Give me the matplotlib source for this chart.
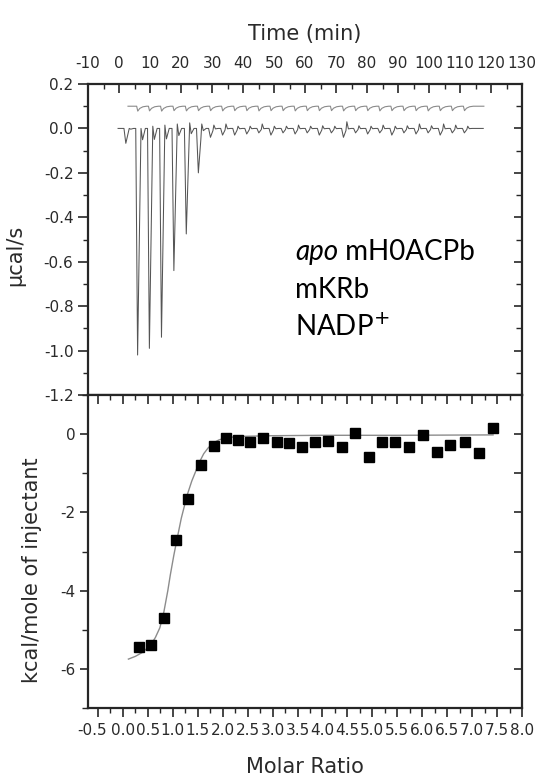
import matplotlib
matplotlib.use('Agg')
import matplotlib.pyplot as plt
import matplotlib.transforms as mtransforms
from matplotlib.ticker import MultipleLocator, FormatStrFormatter

# ---------------- data ----------------
# raw thermogram (top panel)
inj_time = [1.9, 5.7, 9.5, 13.4, 17.4, 21.4, 25.3, 29.2, 33.1, 37.0, 40.9, 44.8,
            48.7, 52.6, 56.5, 60.4, 64.3, 68.2, 72.1, 76.0, 79.9, 83.8, 87.7,
            91.6, 95.5, 99.4, 103.3, 107.2, 111.1]
sample_depth = [-0.067, -1.02, -0.99, -0.94, -0.64, -0.475, -0.20, -0.04, -0.03,
                -0.03, -0.025, -0.02, -0.03, -0.02, -0.025, -0.02, -0.03, -0.02,
                -0.04, -0.02, -0.025, -0.02, -0.03, -0.02, -0.025, -0.02, -0.03,
                -0.02, -0.02]
sample_blip = [0.0, 0.0, 0.01, 0.015, 0.02, 0.025, 0.02, 0.015, 0.02, 0.01, 0.01,
               0.02, 0.01, 0.01, 0.015, 0.01, 0.012, 0.01, 0.03, 0.012, 0.01,
               0.015, 0.01, 0.012, 0.02, 0.012, 0.02, 0.015, 0.01]
ref_time = [5.7, 9.5, 13.4, 17.4, 21.4, 25.3, 29.2, 33.1, 37.0, 40.9, 44.8,
            48.7, 52.6, 56.5, 60.4, 64.3, 68.2, 72.1, 76.0, 79.9, 83.8, 87.7,
            91.6, 95.5, 99.4, 103.3, 107.2, 111.1]
ref_depth = [-0.022, -0.021, -0.022, -0.02, -0.021, -0.02, -0.02, -0.021, -0.02,
             -0.02, -0.021, -0.02, -0.02, -0.021, -0.02, -0.02, -0.02, -0.021,
             -0.02, -0.02, -0.021, -0.02, -0.02, -0.02, -0.021, -0.02, -0.02, -0.02]
ref_base = 0.1
sample_span = (-0.3, 117.5)
ref_span = (2.9, 117.7)

# integrated heats (bottom panel)
molar_ratio = [0.32, 0.57, 0.83, 1.07, 1.31, 1.56, 1.82, 2.07, 2.31, 2.55, 2.81,
               3.08, 3.33, 3.59, 3.86, 4.12, 4.39, 4.65, 4.93, 5.19, 5.45, 5.73,
               6.01, 6.29, 6.56, 6.85, 7.14, 7.42]
heat = [-5.43, -5.39, -4.71, -2.70, -1.65, -0.80, -0.30, -0.09, -0.15, -0.19,
        -0.11, -0.19, -0.23, -0.34, -0.21, -0.17, -0.34, 0.04, -0.58, -0.19,
        -0.19, -0.32, -0.03, -0.45, -0.27, -0.19, -0.49, 0.15]
fit_x = [0.11, 0.25, 0.39, 0.55, 0.65, 0.74, 0.82, 0.90, 0.95, 1.02, 1.09, 1.17,
         1.24, 1.29, 1.38, 1.45, 1.52, 1.62, 1.71, 1.82, 1.92, 2.05, 2.3, 3.0,
         4.0, 5.5, 7.42]
fit_y = [-5.75, -5.68, -5.58, -5.40, -5.20, -4.95, -4.55, -4.00, -3.60, -3.10,
         -2.65, -2.15, -1.80, -1.55, -1.20, -0.98, -0.75, -0.50, -0.35, -0.22,
         -0.15, -0.10, -0.06, -0.04, -0.03, -0.03, -0.02]

time_ticks = list(range(-10, 131, 10))
ratio_ticks = [-0.5, 0.0, 0.5, 1.0, 1.5, 2.0, 2.5, 3.0, 3.5, 4.0, 4.5, 5.0, 5.5,
               6.0, 6.5, 7.0, 7.5, 8.0]
annotation = ["apo", " mH0ACPb", "mKRb", "NADP$^{+}$"]


def build_trace(times, depths, blips, base, span):
    xs, ys = [span[0]], [base]
    for t, d, b in zip(times, depths, blips):
        xs += [t - 0.3, t + 0.3, t + 1.1, t + 1.4, t + 1.9, t + 2.8]
        ys += [base, base + d, base + 0.25 * d, base + b, base + 0.05 * d, base]
    xs.append(span[1]); ys.append(base)
    return xs, ys


def build_ref(times, depths, base, span):
    xs, ys = [span[0]], [base]
    for t, d in zip(times, depths):
        xs += [t, t + 0.35, t + 1.0, t + 2.0, t + 3.2]
        ys += [base, base + d, base + 0.45 * d, base + 0.12 * d, base]
    xs.append(span[1]); ys.append(base)
    return xs, ys


# ---------------- figure ----------------
plt.rcParams['font.family'] = ['DejaVu Sans']
plt.rcParams['axes.unicode_minus'] = False
spine_col = '#262626'
text_col = '#2a2a2a'
tick_fs = 11

fig = plt.figure(figsize=(5.41, 7.79), dpi=100)
W, H = 541, 779
L, R = 88, 522
ax1 = fig.add_axes([L / W, 1 - 395 / H, (R - L) / W, (395 - 84) / H])
ax2 = fig.add_axes([L / W, 1 - 708 / H, (R - L) / W, (708 - 395) / H])

# top panel
sx, sy = build_trace(inj_time, sample_depth, sample_blip, 0.0, sample_span)
rx, ry = build_ref(ref_time, ref_depth, ref_base, ref_span)
ax1.plot(rx, ry, color='#8a8a8a', lw=0.8)
ax1.plot(sx, sy, color='#555555', lw=0.75)
ax1.set_xlim(-10, 130)
ax1.set_ylim(-1.2, 0.2)
ax1.xaxis.tick_top()
ax1.xaxis.set_label_position('top')
ax1.set_xticks(time_ticks)
ax1.set_xticklabels([str(t) for t in time_ticks])
ax1.xaxis.set_minor_locator(MultipleLocator(5))
ax1.tick_params(axis='x', which='major', direction='in', length=6.5, width=1.2,
                pad=9, labelsize=tick_fs, colors=spine_col, labelcolor=text_col)
ax1.tick_params(axis='x', which='minor', direction='in', length=3.5, width=1.0,
                colors=spine_col)
ax1.set_xlabel('Time (min)', fontsize=15, color=text_col, labelpad=12)
ax1.yaxis.set_major_locator(MultipleLocator(0.2))
ax1.yaxis.set_minor_locator(MultipleLocator(0.1))
ax1.yaxis.set_major_formatter(FormatStrFormatter('%.1f'))
ax1.tick_params(axis='y', which='major', direction='out', length=7.5, width=1.2,
                pad=3, labelsize=tick_fs, colors=spine_col, labelcolor=text_col)
ax1.tick_params(axis='y', which='minor', direction='out', length=3.5, width=1.0,
                colors=spine_col)
ax1.set_ylabel('\u03bccal/s', fontsize=15, color=text_col)
ax1.yaxis.set_label_coords(-0.145, 0.45)
r1 = ax1.secondary_yaxis('right')
r1.yaxis.set_major_locator(MultipleLocator(0.2))
r1.yaxis.set_minor_locator(MultipleLocator(0.1))
r1.tick_params(which='major', direction='in', length=6, width=1.2, labelright=False,
               colors=spine_col)
r1.tick_params(which='minor', direction='in', length=4, width=1.0, colors=spine_col)
r1.spines['right'].set_visible(False)

# annotation
tx, ty = 295, 252
fs_ann = 20
fig.text(tx / W, 1 - ty / H, annotation[0], fontsize=fs_ann, family='Lato',
         style='italic', va='center', ha='left', color='black')
fig.canvas.draw()
bb = fig.texts[0].get_window_extent(renderer=fig.canvas.get_renderer())
fig.text(bb.x1 / W, 1 - ty / H, annotation[1], fontsize=fs_ann, family='Lato',
         va='center', ha='left', color='black')
fig.text(tx / W, 1 - 290 / H, annotation[2], fontsize=fs_ann, family='Lato',
         va='center', ha='left', color='black')
fig.text(tx / W, 1 - 327 / H, annotation[3], fontsize=fs_ann, family='Lato',
         va='center', ha='left', color='black')

# bottom panel
ax2.plot(fit_x, fit_y, color='#8c8c8c', lw=1.0, zorder=2)
ax2.plot(molar_ratio, heat, 's', color='black', ms=7.5, zorder=3)
ax2.set_xlim(-0.7, 8.0)
ax2.set_ylim(-7, 1)
ax2.set_xticks(ratio_ticks)
ax2.set_xticklabels(['%.1f' % v for v in ratio_ticks])
ax2.xaxis.set_minor_locator(MultipleLocator(0.25))
ax2.tick_params(axis='x', which='major', direction='out', length=6.5, width=1.2,
                pad=4, labelsize=tick_fs, colors=spine_col, labelcolor=text_col)
ax2.tick_params(axis='x', which='minor', direction='out', length=3.5, width=1.0,
                colors=spine_col)
# nudge the first (wide) label left so it just touches its neighbour
first = ax2.get_xticklabels()[0]
first.set_transform(first.get_transform() +
                    mtransforms.ScaledTranslation(-6 / 100, 0, fig.dpi_scale_trans))
ax2.set_xlabel('Molar Ratio', fontsize=15, color=text_col, labelpad=14)
ax2.yaxis.set_major_locator(MultipleLocator(2))
ax2.yaxis.set_minor_locator(MultipleLocator(1))
ax2.tick_params(axis='y', which='major', direction='out', length=6, width=1.2,
                pad=3, labelsize=tick_fs, colors=spine_col, labelcolor=text_col)
ax2.tick_params(axis='y', which='minor', direction='out', length=4, width=1.0,
                colors=spine_col)
ax2.set_ylabel('kcal/mole of injectant', fontsize=15, color=text_col)
ax2.yaxis.set_label_coords(-0.106, 0.44)
t2 = ax2.secondary_xaxis('top')
t2.set_xticks(ratio_ticks)
t2.xaxis.set_minor_locator(MultipleLocator(0.25))
t2.tick_params(which='major', direction='in', length=6.5, width=1.2,
               labeltop=False, colors=spine_col)
t2.tick_params(which='minor', direction='in', length=3.5, width=1.0, colors=spine_col)
t2.spines['top'].set_visible(False)
r2 = ax2.secondary_yaxis('right')
r2.yaxis.set_major_locator(MultipleLocator(1))
r2.tick_params(which='major', direction='in', length=6, width=1.2, labelright=False,
               colors=spine_col)
r2.spines['right'].set_visible(False)

for ax in (ax1, ax2):
    for s in ax.spines.values():
        s.set_linewidth(1.6)
        s.set_color(spine_col)

fig.savefig('out.png', dpi=100)
